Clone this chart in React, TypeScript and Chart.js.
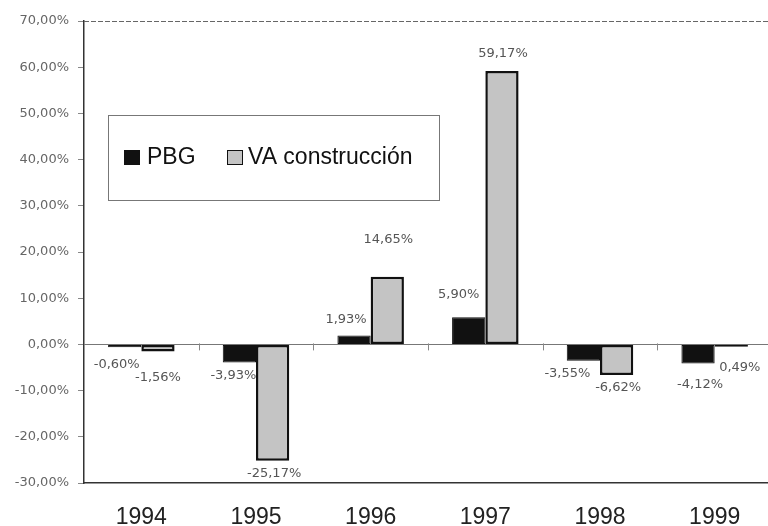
import React, { useEffect, useRef } from 'react';
import { Chart, registerables } from 'chart.js';

Chart.register(...registerables);

// ---- data ----
const years = ['1994', '1995', '1996', '1997', '1998', '1999'];
const pbg = [-0.6, -3.93, 1.93, 5.9, -3.55, -4.12];
const vaConstruccion = [-1.56, -25.17, 14.65, 59.17, -6.62, -0.49];
const pbgLabels = ['-0,60%', '-3,93%', '1,93%', '5,90%', '-3,55%', '-4,12%'];
const vaLabels = ['-1,56%', '-25,17%', '14,65%', '59,17%', '-6,62%', '0,49%'];
const yMin = -30;
const yMax = 70;
const yStep = 10;

// label nudges (px) relative to the bar end, as placed in the original
const labelNudges = [
  [[-8, 17], [-6, 13.5], [-8, -16], [-10, -23], [-16, 13], [2, 21]],
  [[0, 26.5], [1.5, 12.5], [1, -37.5], [1, -17], [1.5, 13], [8.5, 20.5]],
];

const fmtPct = (v: number) => v.toFixed(2).replace('.', ',') + '%';

const decorPlugin = {
  id: 'decor',
  beforeDatasetsDraw(chart: any) {
    const { ctx, chartArea } = chart;
    const y = chart.scales.y;
    const zy = y.getPixelForValue(0);
    ctx.save();
    ctx.strokeStyle = '#888';
    ctx.lineWidth = 1;
    const n = chart.data.labels.length;
    const cw = (chartArea.right - chartArea.left) / n;
    for (let i = 1; i < n; i++) {
      const bx = Math.round(chartArea.left + i * cw) + 0.5;
      ctx.beginPath();
      ctx.moveTo(bx, zy - 1);
      ctx.lineTo(bx, zy + 6);
      ctx.stroke();
    }
    ctx.restore();
  },
  afterDraw(chart: any) {
    const { ctx, chartArea } = chart;
    ctx.save();
    // dashed top border
    ctx.strokeStyle = '#666';
    ctx.lineWidth = 1;
    ctx.setLineDash([5, 2]);
    ctx.beginPath();
    ctx.moveTo(chartArea.left, Math.round(chartArea.top) + 0.5);
    ctx.lineTo(chartArea.right, Math.round(chartArea.top) + 0.5);
    ctx.stroke();
    ctx.setLineDash([]);

    // value labels
    ctx.font = '13px "DejaVu Sans"';
    ctx.fillStyle = '#555';
    ctx.textAlign = 'center';
    ctx.textBaseline = 'middle';
    const texts = [pbgLabels, vaLabels];
    chart.data.datasets.forEach((_: any, di: number) => {
      const meta = chart.getDatasetMeta(di);
      meta.data.forEach((el: any, i: number) => {
        const [dx, dy] = labelNudges[di][i];
        ctx.fillText(texts[di][i], el.x + dx, el.y + dy);
      });
    });

    // legend box
    const lx = 108.5, ly = 115.5, lw = 331, lh = 85;
    ctx.fillStyle = '#fff';
    ctx.fillRect(lx, ly, lw, lh);
    ctx.strokeStyle = '#777';
    ctx.lineWidth = 1;
    ctx.strokeRect(lx, ly, lw, lh);
    const ds = chart.data.datasets;
    ctx.font = '23px "Liberation Sans"';
    ctx.textAlign = 'left';
    ctx.textBaseline = 'alphabetic';
    const items = [
      { sx: 124, tx: 147, d: ds[0] },
      { sx: 227, tx: 248, d: ds[1] },
    ];
    items.forEach((it) => {
      ctx.fillStyle = it.d.backgroundColor;
      ctx.fillRect(it.sx, 150, 16, 15);
      ctx.strokeStyle = '#111';
      ctx.lineWidth = 1;
      ctx.strokeRect(it.sx + 0.5, 150.5, 15, 14);
      ctx.fillStyle = '#111';
      ctx.fillText(it.d.label, it.tx, 164);
    });
    ctx.restore();
  },
};

export default function App() {
  const ref = useRef<HTMLCanvasElement>(null);
  useEffect(() => {
    const chart = new Chart(ref.current as HTMLCanvasElement, {
      type: 'bar',
      data: {
        labels: years,
        datasets: [
          {
            label: 'PBG',
            data: pbg,
            backgroundColor: '#111',
            borderColor: '#111',
            borderWidth: 1,
            borderSkipped: false,
            categoryPercentage: 0.58,
            barPercentage: 1,
          },
          {
            label: 'VA construcción',
            data: vaConstruccion,
            backgroundColor: '#c4c4c4',
            borderColor: '#111',
            borderWidth: 2.5,
            borderSkipped: false,
            categoryPercentage: 0.58,
            barPercentage: 1,
          },
        ],
      },
      options: {
        responsive: false,
        animation: false,
        layout: { padding: { top: 21, left: 0, right: 0, bottom: 0 } },
        plugins: {
          legend: { display: false },
          tooltip: { enabled: false },
        },
        scales: {
          x: {
            grid: { display: false },
            border: { display: true, color: '#333', width: 1.5 },
            ticks: {
              font: { family: 'Liberation Sans', size: 23 },
              color: '#222',
              padding: 13,
              maxRotation: 0,
            },
            afterFit: (s: any) => {
              s.height = 43;
            },
          },
          y: {
            min: yMin,
            max: yMax,
            ticks: {
              stepSize: yStep,
              callback: (v: any) => fmtPct(Number(v)),
              font: { family: 'DejaVu Sans', size: 13 },
              color: '#666',
              padding: 9,
            },
            grid: {
              drawOnChartArea: true,
              color: (c: any) => (c.tick && c.tick.value === 0 ? '#777' : 'rgba(0,0,0,0)'),
              tickColor: '#888',
              tickLength: 6,
            },
            border: { display: true, color: '#333', width: 1.5 },
            afterFit: (s: any) => {
              s.width = 84;
            },
          },
        },
      },
      plugins: [decorPlugin],
    });
    return () => chart.destroy();
  }, []);
  return (
    <div
      style={{
        position: 'fixed',
        left: 0,
        top: 0,
        width: 768,
        height: 526,
        overflow: 'hidden',
        background: '#fff',
      }}
    >
      <canvas ref={ref} width={772} height={526} style={{ display: 'block' }} />
    </div>
  );
}
